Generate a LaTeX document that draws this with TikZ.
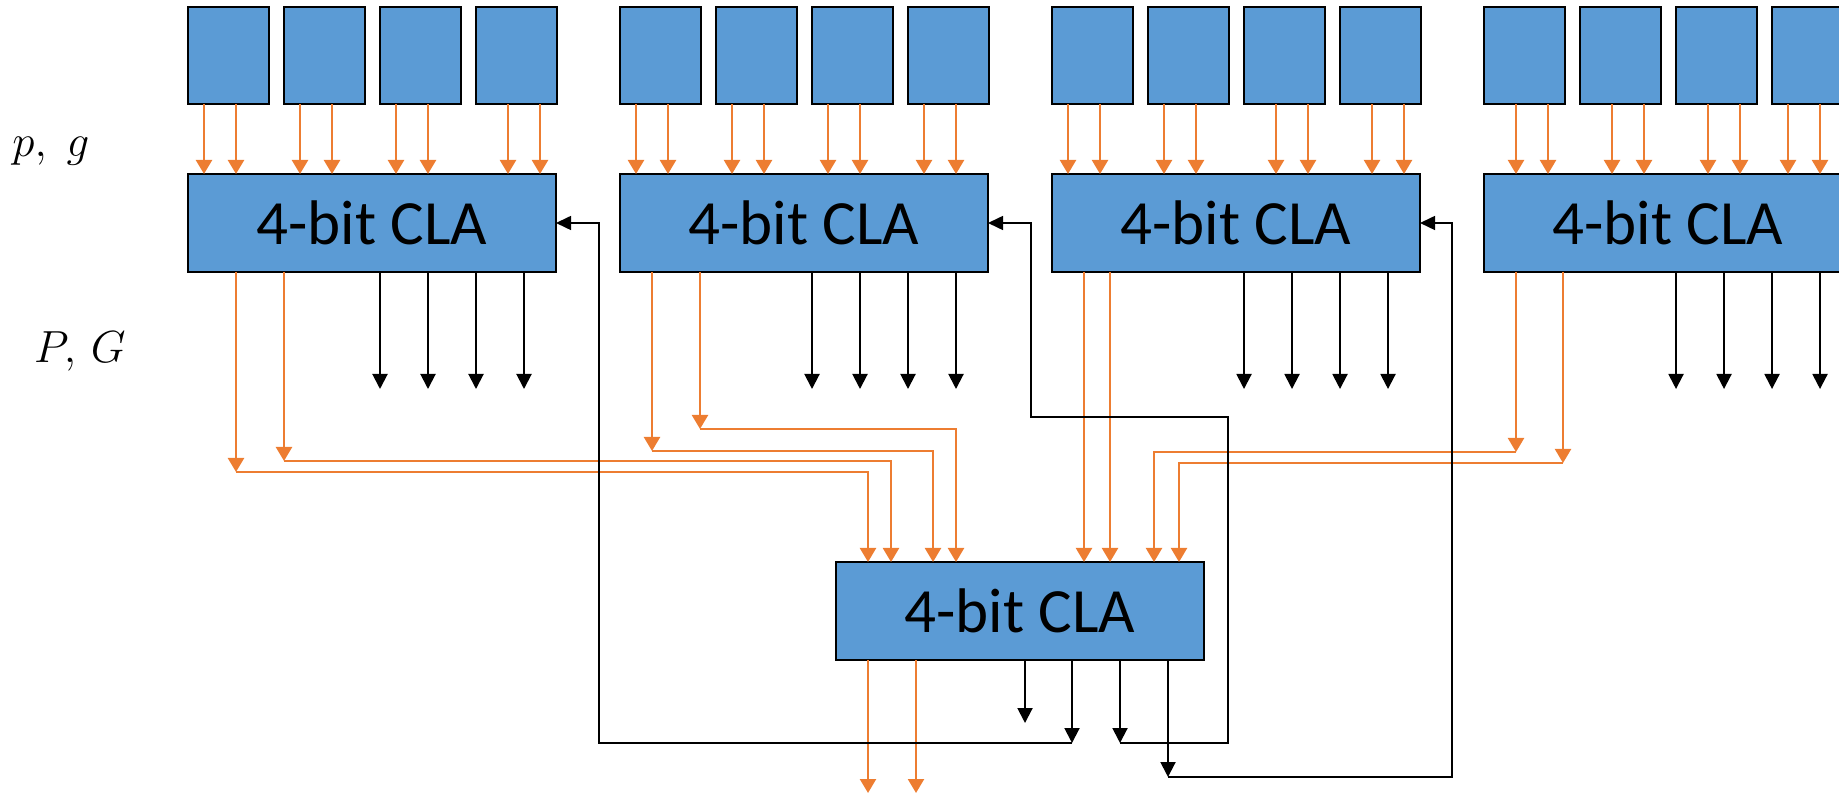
\documentclass[tikz,border=0pt]{standalone}
\usepackage{fontspec}
\newfontfamily\calfont{Carlito}
\usetikzlibrary{arrows.meta,calc}
\definecolor{cblue}{HTML}{5B9BD5}
\definecolor{corange}{HTML}{ED7D31}
\tikzset{
  blk/.style={draw=black, line width=1pt, fill=cblue, inner sep=0pt, outer sep=0pt},
  bitbox/.style={blk, minimum width=40.25pt, minimum height=48.5pt},
  cla/.style={blk, minimum width=184pt, minimum height=49pt, font=\calfont\fontsize{31.5}{36}\selectfont},
  oarr/.style={draw=corange, line width=1.15pt, -{Triangle[width=8pt,length=7pt]}},
  barr/.style={draw=black, line width=1pt, -{Triangle[width=7.5pt,length=7.5pt]}},
  fb/.style={draw=black, line width=0.8pt, -{Triangle[width=7pt,length=7.5pt]}},
  lbl/.style={inner sep=0pt, anchor=base, font=\fontsize{20.74}{25}\selectfont},
}
\begin{document}
\begin{tikzpicture}[x=0.5pt, y=-0.5pt]
\useasboundingbox (0,0) rectangle (1839,795);

% labels
\node[lbl] (lpg) at (51,157) {\scalebox{1.085}{$p,\;g$}};
\node[lbl] (lPG) at (80,363) {\scalebox{1.085}{$P,\,G$}};

% four first-level CLAs with their bit boxes
\foreach \g/\gx in {1/188,2/620,3/1052,4/1484} {
  \node[cla, anchor=north west] (c\g) at (\gx,174) {4-bit CLA};
  \foreach \k in {1,...,4} {
    \node[bitbox, anchor=north west] (s\g\k) at ({\gx+96*(\k-1)},7.5) {};
  }
}

% p,g input arrows
\foreach \g/\k/\s in {1/1/0,1/2/0,1/3/0,1/4/16,
                      2/1/0,2/2/0,2/3/0,2/4/0,
                      3/1/0,3/2/0,3/3/16,3/4/16,
                      4/1/16,4/2/16,4/3/16,4/4/0} {
  \coordinate (a) at ($(s\g\k.south west)+(16+\s,0)$);
  \coordinate (b) at ($(s\g\k.south west)+(48+\s,0)$);
  \draw[oarr] (a) -- (a |- c\g.north);
  \draw[oarr] (b) -- (b |- c\g.north);
}

% carry outputs of the first-level CLAs
\coordinate (ybot) at (0,389);
\foreach \g in {1,...,4} {
  \foreach \o in {192,240,288,336} {
    \coordinate (q) at ($(c\g.south west)+(\o,0)$);
    \draw[barr] (q) -- (q |- ybot);
  }
}

% second-level CLA
\node[cla, anchor=north west] (c5) at (836,562) {4-bit CLA};
\foreach \n/\o in {1/32,2/55,3/97,4/120,5/248,6/274,7/318,8/343}
  \coordinate (i\n) at ($(c5.north west)+(\o,0)$);

% P,G outputs of first-level CLAs
\coordinate (p1) at ($(c1.south west)+(48,0)$);
\coordinate (p2) at ($(c1.south west)+(96,0)$);
\coordinate (p3) at ($(c2.south west)+(32,0)$);
\coordinate (p4) at ($(c2.south west)+(80,0)$);
\coordinate (p5) at ($(c3.south west)+(32,0)$);
\coordinate (p6) at ($(c3.south west)+(58,0)$);
\coordinate (p7) at ($(c4.south west)+(32,0)$);
\coordinate (p8) at ($(c4.south west)+(79,0)$);
\coordinate (k1) at (p1 |- 0,472);
\coordinate (k2) at (p2 |- 0,461);
\coordinate (k3) at (p3 |- 0,451);
\coordinate (k4) at (p4 |- 0,429);
\coordinate (k7) at (p7 |- 0,452);
\coordinate (k8) at (p8 |- 0,463);

\foreach \n in {1,2,3,4,7,8} {
  \draw[oarr] (p\n) -- (k\n);
  \draw[oarr] (k\n) -| (i\n);
}
\draw[oarr] (p5) -- (p5 |- c5.north);
\draw[oarr] (p6) -- (p6 |- c5.north);

% outputs of second-level CLA
\coordinate (r1) at ($(c5.south west)+(32,0)$);
\coordinate (r2) at ($(c5.south west)+(80,0)$);
\coordinate (ylow) at (0,793);
\draw[oarr] (r1) -- (r1 |- ylow);
\draw[oarr] (r2) -- (r2 |- ylow);

\coordinate (u1) at ($(c5.south west)+(189,0)$);
\coordinate (u2) at ($(c5.south west)+(236,0)$);
\coordinate (u3) at ($(c5.south west)+(284,0)$);
\coordinate (u4) at ($(c5.south west)+(332,0)$);
\coordinate (v1) at (u1 |- 0,723);
\coordinate (v2) at (u2 |- 0,743);
\coordinate (v3) at (u3 |- 0,743);
\coordinate (v4) at (u4 |- 0,777);
\foreach \n in {1,...,4} \draw[barr] (u\n) -- (v\n);

% carry feedback to first-level CLAs
\coordinate (w1) at (599,0);
\coordinate (w2) at (1228,417);
\coordinate (w3) at (1031,0);
\coordinate (w4) at (1452,0);
\draw[fb] (v2) -| (w1 |- c1.east) -- (c1.east);
\draw[fb] (v3) -| (w2) -| (w3 |- c2.east) -- (c2.east);
\draw[fb] (v4) -| (w4 |- c3.east) -- (c3.east);
\end{tikzpicture}
\end{document}
